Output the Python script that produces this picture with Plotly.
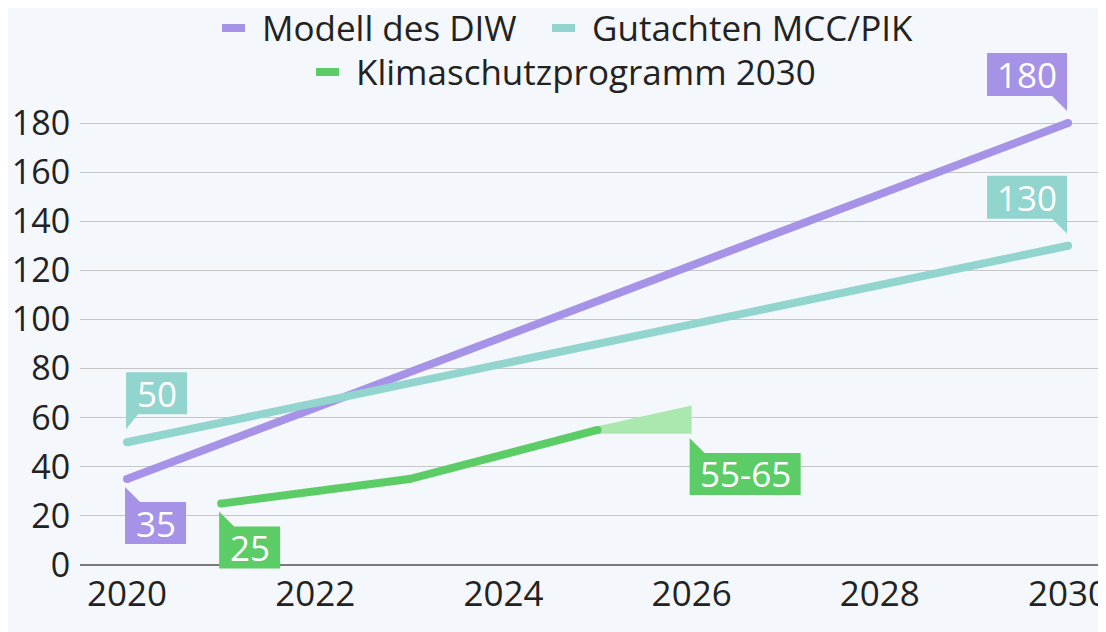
import plotly.graph_objects as go

# ---- data ----
diw_years = [2020, 2030]
diw_values = [35, 180]
mcc_years = [2020, 2030]
mcc_values = [50, 130]
ksp_years = [2021, 2023, 2025]
ksp_values = [25, 35, 55]
range_years = [2025, 2026]
range_low = 55
range_high = 65
x_ticks = [2020, 2022, 2024, 2026, 2028, 2030]
y_ticks = [0, 20, 40, 60, 80, 100, 120, 140, 160, 180]

names = ["Modell des DIW", "Gutachten MCC/PIK", "Klimaschutzprogramm 2030"]
PURPLE = "#a692e6"
TEAL = "#91d5ce"
GREEN = "#5ccd66"
BAND = "#abe8b0"
BG = "#f4f7fb"
FONT = "Open Sans"
TXT = "#222222"
W, H = 1106, 632

# ---- geometry (pixels) ----
L_M, R_M, T_M, B_M = 72, 6, 0, 70
plot_w = W - L_M - R_M
plot_h = H - T_M - B_M
k = 442 / 180          # px per unit on y
below = 5 / k          # small room below zero so bottom callout is not clipped
y_top = (plot_h - 5) / k

fig = go.Figure()

# range band (2025 -> 2026, 55..65)
pad = 1.5
fig.add_trace(go.Scatter(
    x=[range_years[0], range_years[1], range_years[1], range_years[0]],
    y=[range_low + pad, range_high, range_low - pad, range_low - pad],
    fill="toself", fillcolor=BAND, line=dict(width=0), mode="lines",
    showlegend=False, hoverinfo="skip"))

colors = [PURPLE, TEAL, GREEN]
series = [(diw_years, diw_values), (mcc_years, mcc_values), (ksp_years, ksp_values)]
for (xs_, ys_), nm, col in zip(series, names, colors):
    # round markers of line width give the rounded line ends
    fig.add_trace(go.Scatter(x=xs_, y=ys_, mode="lines+markers", name=nm,
                             line=dict(color=col, width=8),
                             marker=dict(color=col, size=8, line=dict(width=0))))

shapes = []
annotations = []
LABEL_SIZE = 35


def callout(x, y, text, color, place):
    w = sum(12 if c == "-" else 19 for c in text) + 23
    if place == "above-left":
        path = f"M{-w-1},70 L-1,70 L-1,12 L-16,27 L{-w-1},27 Z"
        xs, ys = -1 - w / 2, 48.5
    elif place == "above-right":
        path = f"M-1,70 L{w-1},70 L{w-1},28 L11,28 L-1,13 Z"
        xs, ys = -1 + w / 2, 49
    else:  # below-right
        path = f"M-2,-8 L13,-23 L{w-2},-23 L{w-2},-65 L-2,-65 Z"
        xs, ys = -2 + w / 2, -44
    shapes.append(dict(type="path", xref="x", yref="y", xsizemode="pixel", ysizemode="pixel",
                       xanchor=x, yanchor=y, path=path, fillcolor=color,
                       line=dict(width=0), layer="above"))
    annotations.append(dict(x=x, y=y, xref="x", yref="y", text=text, showarrow=False,
                            xshift=xs, yshift=ys,
                            font=dict(family=FONT, size=LABEL_SIZE, color="white")))


callout(diw_years[-1], diw_values[-1], str(diw_values[-1]), PURPLE, "above-left")
callout(mcc_years[-1], mcc_values[-1], str(mcc_values[-1]), TEAL, "above-left")
callout(mcc_years[0], mcc_values[0], str(mcc_values[0]), TEAL, "above-right")
callout(diw_years[0], diw_values[0], str(diw_values[0]), PURPLE, "below-right")
callout(ksp_years[0], ksp_values[0], str(ksp_values[0]), GREEN, "below-right")
callout(range_years[1], range_low, f"{range_low}-{range_high}", GREEN, "below-right")

# ---- legend (two centred rows) ----
LEG_SIZE = 35
legend_items = [  # (name, colour, symbol-left px, row-centre px)
    (names[0], PURPLE, 214, 20),
    (names[1], TEAL, 544, 20),
    (names[2], GREEN, 308, 64),
]


def px_to_paper_x(px):
    return (px - L_M) / plot_w


def px_to_paper_y(py):
    return (plot_h + T_M - py) / plot_h


for nm, col, sx, ry in legend_items:
    shapes.append(dict(type="rect", xref="paper", yref="paper", xsizemode="pixel",
                       ysizemode="pixel", xanchor=px_to_paper_x(sx), yanchor=px_to_paper_y(ry),
                       x0=0, x1=23, y0=-4, y1=4, fillcolor=col, line=dict(width=0)))
    annotations.append(dict(x=px_to_paper_x(sx + 38), y=px_to_paper_y(ry), xref="paper",
                            yref="paper", xanchor="left", yanchor="middle", text=nm,
                            showarrow=False, font=dict(family=FONT, size=LEG_SIZE, color=TXT)))

fig.update_layout(
    width=W, height=H,
    margin=dict(l=L_M, r=R_M, t=T_M, b=B_M),
    paper_bgcolor=BG, plot_bgcolor="rgba(0,0,0,0)",
    font=dict(family=FONT, color=TXT),
    showlegend=False,
    shapes=shapes,
    annotations=annotations,
    xaxis=dict(range=[2019.5, 2019.5 + plot_w / 94.1], tickvals=x_ticks, showgrid=False,
               zeroline=False, automargin=False, ticklabeloverflow="allow",
               ticks="", tickfont=dict(family=FONT, size=35, color=TXT), fixedrange=True),
    yaxis=dict(range=[-below, y_top], tickvals=y_ticks, showgrid=True,
               gridcolor="#c6c6c8", gridwidth=1, automargin=False,
               zeroline=True, zerolinecolor="#7a7a7a", zerolinewidth=2,
               ticks="outside", ticklen=2, tickcolor="rgba(0,0,0,0)",
               tickfont=dict(family=FONT, size=34, color=TXT), fixedrange=True),
)

fig.write_html("out.html")
